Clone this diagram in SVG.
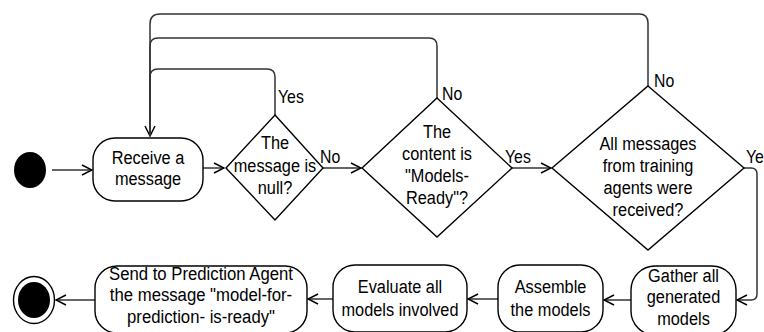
<svg xmlns="http://www.w3.org/2000/svg" width="764" height="332" viewBox="0 0 764 332">
  <style>
    .node { fill: #fff; stroke: #000; stroke-width: 1.4; }
    .dot { fill: #000; }
    .edge { fill: none; stroke: #333; stroke-width: 1.5; }
    .t { font-family: "Liberation Sans", Arial, sans-serif; font-size: 19px; text-anchor: middle; fill: #000; }
    .lbl { font-family: "Liberation Sans", Arial, sans-serif; font-size: 18px; fill: #000; }
  </style>
  <defs>
    <marker id="open" viewBox="0 0 12 12" markerWidth="12" markerHeight="12" refX="11" refY="6" orient="auto" markerUnits="userSpaceOnUse">
      <path d="M1,1 L11,6 L1,11" fill="none" stroke="#000" stroke-width="1.5"/>
    </marker>
  </defs>
  <rect width="764" height="332" fill="#fff"/>

  <!-- connectors -->
  <g id="connectors">
    <path class="edge" d="M52,170 L92,170" marker-end="url(#open)"/>
    <path class="edge" d="M203,168 L224,168" marker-end="url(#open)"/>
    <path class="edge" d="M323,168 L361,168" marker-end="url(#open)"/>
    <path class="edge" d="M512,168 L551,168" marker-end="url(#open)"/>
    <!-- loops back to "Receive a message" -->
    <path class="edge" d="M275,115 L275,77 Q275,69 267,69 L158,69 Q150,69 150,77 L150,136" marker-end="url(#open)"/>
    <path class="edge" d="M437,98 L437,46 Q437,38 429,38 L158,38 Q150,38 150,46 L150,136"/>
    <path class="edge" d="M648,86 L648,23 Q648,14 639,14 L160,14 Q150,14 150,24 L150,136"/>
    <!-- down the right side to "Gather" -->
    <path class="edge" d="M744,168 L751,168 Q757,168 757,174 L757,294 Q757,300 751,300 L737,300" marker-end="url(#open)"/>
    <path class="edge" d="M631,300 L604,300" marker-end="url(#open)"/>
    <path class="edge" d="M498,299 L468,299" marker-end="url(#open)"/>
    <path class="edge" d="M333,299 L308,299" marker-end="url(#open)"/>
    <path class="edge" d="M95,300 L56,300" marker-end="url(#open)"/>
    <!-- guard labels -->
    <text class="lbl" transform="translate(278 103) scale(0.88 1)" font-size="19">Yes</text>
    <text class="lbl" transform="translate(320 162.5) scale(0.88 1)">No</text>
    <text class="lbl" transform="translate(442 100) scale(0.88 1)">No</text>
    <text class="lbl" transform="translate(505 162.5) scale(0.88 1)">Yes</text>
    <text class="lbl" transform="translate(654 87) scale(0.88 1)">No</text>
    <text class="lbl" transform="translate(746 163) scale(0.88 1)">Ye</text>
  </g>

  <g id="start">
    <ellipse class="dot" cx="30" cy="170" rx="16" ry="18"/>
  </g>

  <g id="receive">
    <rect class="node" x="93" y="138" width="110" height="63" rx="22" ry="22"/>
    <g transform="translate(148 0) scale(0.86 1)">
      <text class="t" x="0" y="164.5">Receive a</text>
      <text class="t" x="0" y="185.5">message</text>
    </g>
  </g>

  <g id="is-null">
    <polygon class="node" points="275,115 323,168 275,220 226,168"/>
    <g transform="translate(275 0) scale(0.86 1)">
      <text class="t" x="0" y="149.5">The</text>
      <text class="t" x="0" y="172">message is</text>
      <text class="t" x="0" y="194">null?</text>
    </g>
  </g>

  <g id="models-ready">
    <polygon class="node" points="437,98 512,168 437,237 362,168"/>
    <g transform="translate(437 0) scale(0.86 1)">
      <text class="t" x="0" y="138.5">The</text>
      <text class="t" x="0" y="160.5">content is</text>
      <text class="t" x="0" y="182.5">"Models-</text>
      <text class="t" x="0" y="204.5">Ready"?</text>
    </g>
  </g>

  <g id="all-received">
    <polygon class="node" points="648,86 744,168 648,250 552,168"/>
    <g transform="translate(648 0) scale(0.86 1)">
      <text class="t" x="0" y="150.5">All messages</text>
      <text class="t" x="0" y="172.5">from training</text>
      <text class="t" x="0" y="194.5">agents were</text>
      <text class="t" x="0" y="216.5">received?</text>
    </g>
  </g>

  <g id="gather">
    <rect class="node" x="631" y="266" width="105" height="69" rx="24" ry="24"/>
    <g transform="translate(683.5 0) scale(0.86 1)">
      <text class="t" x="0" y="282">Gather all</text>
      <text class="t" x="0" y="303.5">generated</text>
      <text class="t" x="0" y="325">models</text>
    </g>
  </g>

  <g id="assemble">
    <rect class="node" x="498" y="265" width="105" height="67" rx="22" ry="22"/>
    <g transform="translate(550.5 0) scale(0.86 1)">
      <text class="t" x="0" y="293.5">Assemble</text>
      <text class="t" x="0" y="316">the models</text>
    </g>
  </g>

  <g id="evaluate">
    <rect class="node" x="333" y="265" width="134" height="67" rx="22" ry="22"/>
    <g transform="translate(400 0) scale(0.86 1)">
      <text class="t" x="0" y="293.5">Evaluate all</text>
      <text class="t" x="0" y="316">models involved</text>
    </g>
  </g>

  <g id="send">
    <rect class="node" x="95" y="266" width="212" height="67" rx="22" ry="22"/>
    <g transform="translate(201 0) scale(0.88 1)">
      <text class="t" x="0" y="280">Send to Prediction Agent</text>
      <text class="t" x="0" y="301.5">the message "model-for-</text>
      <text class="t" x="0" y="323.5">prediction- is-ready"</text>
    </g>
  </g>

  <g id="end">
    <ellipse cx="34" cy="300" rx="20.5" ry="23.5" fill="#fff" stroke="#000" stroke-width="1.4"/>
    <ellipse class="dot" cx="34" cy="300" rx="16" ry="18"/>
  </g>
</svg>
